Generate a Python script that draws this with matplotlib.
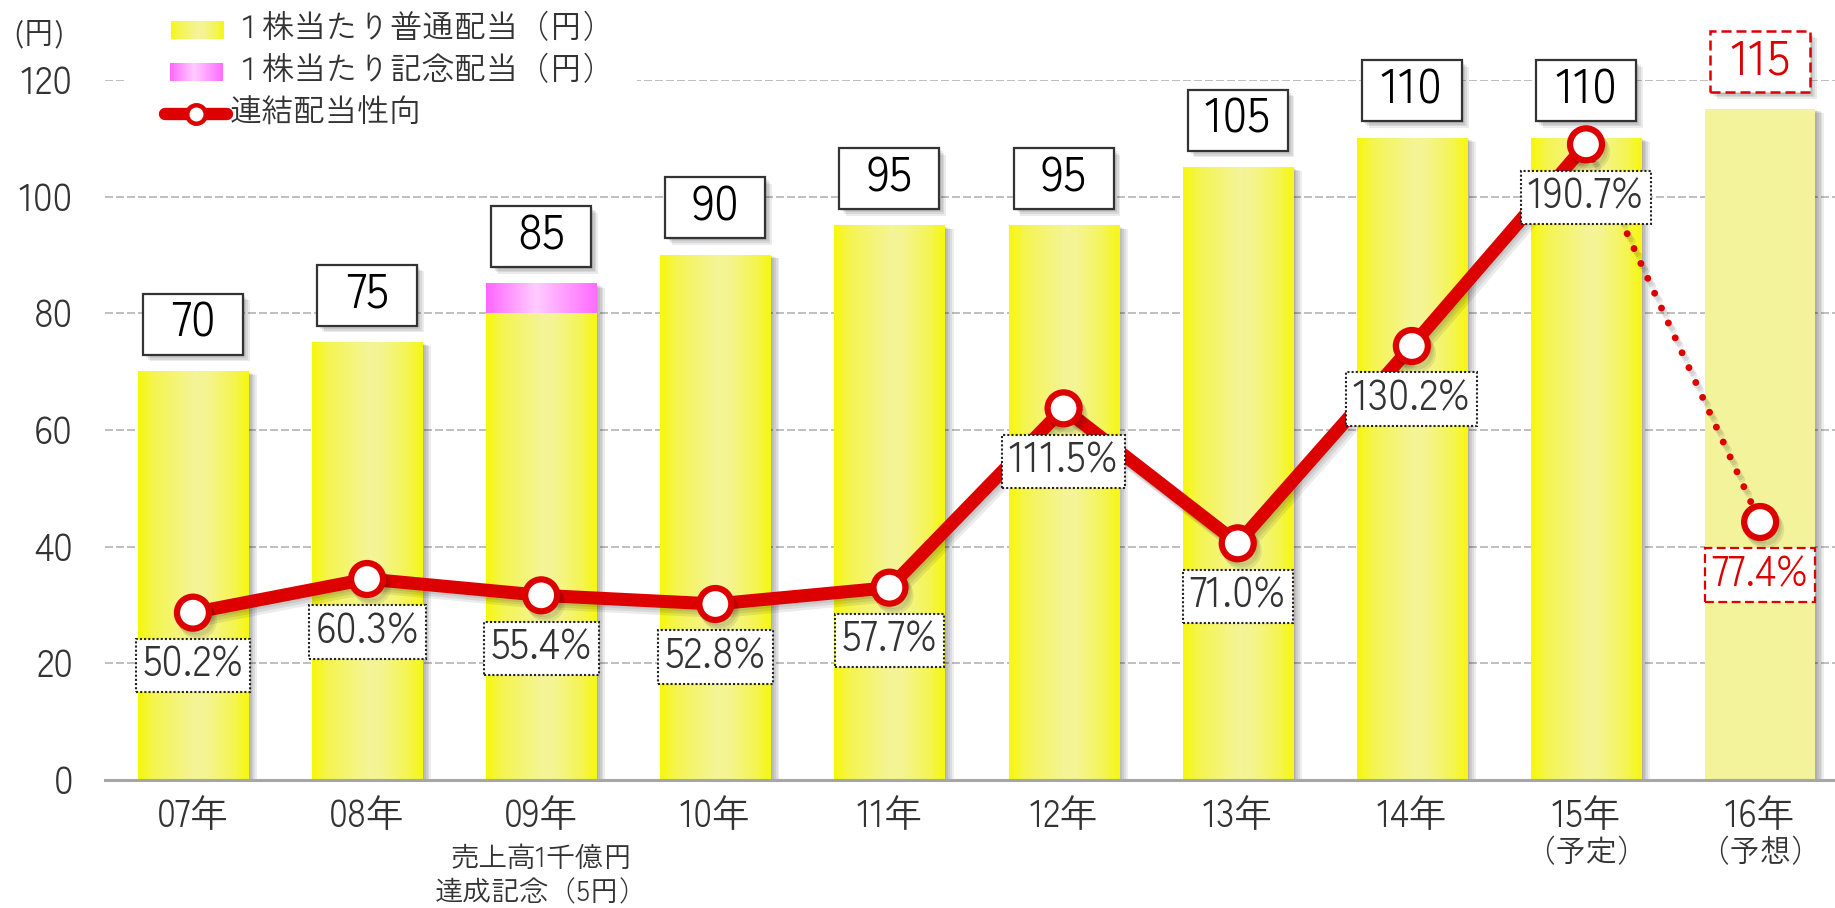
import numpy as np
import matplotlib
matplotlib.use("Agg")
import matplotlib.pyplot as plt
import matplotlib.patheffects as pe
from matplotlib.patches import Rectangle
from matplotlib import font_manager as fm

# ---------------- data ----------------
years = ["07年", "08年", "09年", "10年", "11年", "12年", "13年", "14年", "15年", "16年"]
year_notes = ["", "", "売上高1千億円\n達成記念（5円）", "", "", "", "", "", "（予定）", "（予想）"]
regular_dividend = [70, 75, 80, 90, 95, 95, 105, 110, 110, 115]
commemorative_dividend = [0, 0, 5, 0, 0, 0, 0, 0, 0, 0]
payout_ratio = [50.2, 60.3, 55.4, 52.8, 57.7, 111.5, 71.0, 130.2, 190.7, 77.4]
legend_labels = ["１株当たり普通配当（円）", "１株当たり記念配当（円）", "連結配当性向"]
unit_label = "(円)"
forecast_year = "16年"
y_ticks = [0, 20, 40, 60, 80, 100, 120]

# ---------------- style ----------------
W, H = 1835, 908
PT = 0.72                      # points per pixel at 100 dpi
RED = "#DD0000"
TXT = "#333333"
_names = {f.name for f in fm.fontManager.ttflist}
_main = "Zen Kaku Gothic New" if "Zen Kaku Gothic New" in _names else "Noto Sans CJK JP"
FONT = [_main, "Noto Sans CJK JP", "DejaVu Sans"]
plt.rcParams["font.family"] = FONT
plt.rcParams["font.weight"] = 400


def hgrad(stops, n=256):
    pos = np.linspace(0, 1, n)
    p = [s[0] for s in stops]
    rgb = np.stack([np.interp(pos, p, [s[1][c] for s in stops]) for c in range(3)], axis=-1)
    return rgb[np.newaxis, :, :]


YELLOW_GRAD = hgrad([(0.0, (0.97, 0.97, 0.05)), (0.15, (0.96, 0.96, 0.32)),
                     (0.52, (0.96, 0.96, 0.60)), (0.62, (0.96, 0.96, 0.57)),
                     (0.86, (0.96, 0.96, 0.33)), (1.0, (0.97, 0.97, 0.06))])
PINK_GRAD = hgrad([(0.0, (1.0, 0.40, 1.0)), (0.45, (1.0, 0.80, 1.0)), (1.0, (1.0, 0.42, 1.0))])
FORECAST_FACE = "#F3F39C"


def bar_shadow():
    fx = [pe.SimplePatchShadow(offset=(1.3 * k, -0.5 * k), shadow_rgbFace="k", alpha=0.07)
          for k in range(1, 6)]
    return fx + [pe.Normal()]


def box_shadow():
    fx = [pe.SimplePatchShadow(offset=(1.2 * k, -1.2 * k), shadow_rgbFace="k", alpha=0.08)
          for k in range(1, 5)]
    return fx + [pe.Normal()]


def line_shadow():
    fx = [pe.SimpleLineShadow(offset=(1.2 * k, -1.8 * k), shadow_color="k", alpha=0.08)
          for k in range(1, 4)]
    return fx + [pe.Normal()]


# ---------------- figure ----------------
fig = plt.figure(figsize=(W / 100, H / 100), dpi=100)
fig.patch.set_facecolor("white")
ax = fig.add_axes([105 / W, 128 / H, 1730 / W, 700 / H])
x = np.arange(len(years))
xlim = (-0.505, 9.43)
ylim = (0, 120)

ax.set_axisbelow(True)
ax.yaxis.grid(True, color="#B4B4B4", lw=1.2, ls=(0, (4.8, 1.8)))
for s in ("left", "right", "top"):
    ax.spines[s].set_visible(False)
ax.spines["bottom"].set_color("#A6A6A6")
ax.spines["bottom"].set_linewidth(2.2)

bw = 0.632
reg_bars = ax.bar(x, regular_dividend, width=bw, color="#F6F640", zorder=2, linewidth=0)
com_bars = ax.bar(x, commemorative_dividend, bottom=regular_dividend, width=bw,
                  color="#FF88FF", zorder=2, linewidth=0)

for yr, bar in zip(years, reg_bars):
    bar.set_path_effects(bar_shadow())
    x0, y0 = bar.get_x(), bar.get_y()
    x1, y1 = x0 + bar.get_width(), y0 + bar.get_height()
    if yr == forecast_year:
        bar.set_facecolor(FORECAST_FACE)
    else:
        ax.imshow(YELLOW_GRAD, extent=(x0, x1, y0, y1), aspect="auto",
                  interpolation="bilinear", zorder=2.1)
for bar in com_bars:
    if bar.get_height() <= 0:
        bar.set_visible(False)
        continue
    bar.set_path_effects(bar_shadow())
    x0, y0 = bar.get_x(), bar.get_y()
    x1, y1 = x0 + bar.get_width(), y0 + bar.get_height()
    ax.imshow(PINK_GRAD, extent=(x0, x1, y0, y1), aspect="auto",
              interpolation="bilinear", zorder=2.1)

ax.set_xlim(*xlim)
ax.set_ylim(*ylim)

# total dividend labels in fixed-size boxes above the bars
box_w, box_h, box_gap = 0.574, 10.46, 2.91
for xi, yr, r, c in zip(x, years, regular_dividend, commemorative_dividend):
    total = r + c
    forecast = yr == forecast_year
    rect = Rectangle((xi - box_w / 2, total + box_gap), box_w, box_h,
                     facecolor="white", edgecolor=RED if forecast else "#333333",
                     lw=1.8 if forecast else 1.6,
                     ls=(0, (4, 2)) if forecast else "-",
                     zorder=3, clip_on=False)
    rect.set_path_effects(box_shadow())
    ax.add_patch(rect)
    ax.text(xi, total + box_gap + box_h / 2, f"{total:.0f}", ha="center", va="center",
            fontsize=35, color=RED if forecast else "black", zorder=3.1, clip_on=False)

# axes ticks
ax.set_yticks(y_ticks)
ax.set_yticklabels([str(t) for t in y_ticks], fontsize=28, color=TXT)
ax.tick_params(axis="y", length=0, pad=32 * PT)
ax.set_xticks(x)
ax.set_xticklabels(years, fontsize=27, color=TXT)
ax.tick_params(axis="x", length=0, pad=37 * PT)
for lab in ax.get_xticklabels():
    lab.set_va("center")

# notes under the year labels
for xi, note in zip(x, year_notes):
    if not note:
        continue
    lines = note.split("\n")
    if len(lines) == 1:
        ax.annotate(lines[0], xy=(xi, 0), xytext=(0, -73 * PT), textcoords="offset points",
                    ha="center", va="center", fontsize=22, color=TXT,
                    annotation_clip=False)
    else:
        for k, ln in enumerate(lines):
            ax.annotate(ln, xy=(xi, 0), xytext=(0, -(80 + 34 * k) * PT),
                        textcoords="offset points", ha="center", va="center",
                        fontsize=20.5, color=TXT, annotation_clip=False)

# ---------------- payout ratio on a secondary scale ----------------
ax2 = ax.twinx()
ax2.set_ylim(0, 210)
ax2.set_yticks([])
for s in ax2.spines.values():
    s.set_visible(False)
ax2.set_xlim(*xlim)

fi = years.index(forecast_year)
ax2.plot(x[:fi], payout_ratio[:fi], color=RED, lw=9.4, solid_capstyle="round",
         solid_joinstyle="round", zorder=2, path_effects=line_shadow())
ax2.plot(x[fi - 1:fi + 1], payout_ratio[fi - 1:fi + 1], color=RED, lw=5,
         ls=(0, (0.01, 2.35)), dash_capstyle="round", zorder=2, path_effects=line_shadow())
ax2.plot(x, payout_ratio, ls="none", marker="o", ms=23, mfc="white", mec=RED, mew=4.5,
         zorder=2.5, path_effects=line_shadow())

for xi, yr, v in zip(x, years, payout_ratio):
    forecast = yr == forecast_year
    ax2.annotate(f"{v:.1f}%", xy=(xi, v), xytext=(0, -53 * PT), textcoords="offset points",
                 ha="center", va="center", fontsize=30,
                 color=RED if forecast else TXT, zorder=4,
                 bbox=dict(boxstyle="square,pad=0.16", facecolor="white",
                           edgecolor=RED if forecast else "#222222",
                           lw=1.6 if forecast else 1.5,
                           ls=(0, (4, 2)) if forecast else (0, (1, 1))))

# ---------------- legend ----------------
lax = fig.add_axes([127 / W, 1 - 135 / H, 510 / W, 135 / H])
lax.set_facecolor("white")
lax.set_xticks([])
lax.set_yticks([])
for s in lax.spines.values():
    s.set_visible(False)
lax.imshow(YELLOW_GRAD, extent=(171, 223, 39, 21), aspect="auto", interpolation="bilinear")
lax.imshow(PINK_GRAD, extent=(170, 222, 81, 63), aspect="auto", interpolation="bilinear")
lax.plot([165, 227], [114, 114], color=RED, lw=8.9, solid_capstyle="round")
lax.plot([196], [114], ls="none", marker="o", ms=13.3, mfc="white", mec=RED, mew=3.2)
lax.set_xlim(127, 637)
lax.set_ylim(135, 0)
for yy, lab in zip((30, 72, 114), legend_labels):
    lax.text(230, yy, lab, ha="left", va="center", fontsize=23, color=TXT)

fig.text(13 / W, 1 - 35 / H, unit_label, ha="left", va="center", fontsize=22, color=TXT)

fig.savefig("out.png", dpi=100, facecolor="white")
